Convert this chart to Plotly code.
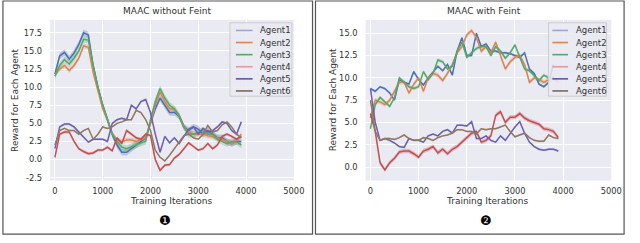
import plotly.graph_objects as go

W, H = 640, 243

agents = ["Agent1", "Agent2", "Agent3", "Agent4", "Agent5", "Agent6"]
colors = ["#4c72b0", "#dd8452", "#55a868", "#c44e52", "#6a5fb0", "#937860"]
legend_colors = ["#9fa6d6", "#dd8452", "#55a868", "#e09a9c", "#5c55aa", "#7d6a55"]

iters = [i * 100 for i in range(40)]

left_titles = "MAAC without Feint"
right_titles = "MAAC with Feint"

# ---- Left panel: MAAC without Feint ----
L_agent1 = [11.8, 14.3, 14.8, 13.9, 14.7, 15.9, 17.5, 17.2, 13.0, 10.0, 7.5, 5.5, 3.5, 2.0, 1.0, 1.0, 1.5, 2.0, 2.5, 3.0,
            5.0, 7.0, 8.5, 7.5, 6.5, 6.5, 6.0, 4.5, 4.0, 4.5, 4.2, 3.5, 4.0, 3.5, 3.0, 3.0, 2.5, 2.2, 2.5, 2.5]
L_agent2 = [11.8, 12.5, 13.0, 12.3, 13.0, 14.0, 15.7, 15.5, 12.0, 9.5, 7.0, 5.5, 3.5, 2.7, 2.5, 2.7, 2.7, 2.5, 2.8, 3.0,
            5.0, 7.5, 9.3, 8.0, 7.0, 7.0, 6.0, 4.5, 3.8, 3.5, 3.5, 3.5, 3.3, 3.2, 3.0, 2.8, 2.5, 2.2, 2.5, 3.5]
L_agent3 = [11.5, 13.0, 13.8, 13.2, 14.0, 15.0, 16.6, 16.5, 13.0, 10.0, 7.5, 5.5, 3.5, 2.5, 1.7, 1.5, 1.8, 2.0, 2.3, 2.5,
            5.5, 8.0, 9.8, 8.5, 7.5, 7.0, 6.0, 4.5, 3.5, 3.5, 3.8, 4.0, 3.5, 3.5, 2.8, 2.5, 2.2, 2.5, 2.5, 2.0]
L_agent4 = [0.3, 3.5, 3.8, 3.8, 2.5, 1.5, 1.1, 0.8, 0.9, 1.3, 1.3, 1.7, 1.2, 3.0, 2.2, 4.0, 3.5, 3.0, 2.8, 3.5,
            3.3, 0.0, -1.5, -0.8, -0.7, 0.2, 0.7, 1.5, 2.3, 1.8, 1.3, 1.5, 2.2, 1.5, 2.0, 3.2, 3.5, 3.2, 2.8, 3.2]
L_agent5 = [1.5, 4.5, 4.9, 4.9, 4.5, 3.8, 3.0, 2.4, 2.8, 2.8, 2.8, 2.5, 5.0, 5.5, 5.7, 5.5, 7.5, 7.0, 8.0, 8.3,
            6.5, 3.5, 1.0, 3.2, 2.3, 3.0, 2.2, 3.2, 4.2, 4.5, 3.5, 4.3, 3.8, 4.0, 4.5, 5.2, 5.0, 4.0, 3.5, 5.2]
L_agent6 = [2.0, 4.0, 4.3, 4.0, 4.0, 3.5, 4.0, 4.3, 2.8, 3.5, 4.5, 4.3, 4.5, 5.0, 5.2, 5.5, 5.5, 6.8, 6.5, 5.5,
            4.0, 1.3, 0.3, -0.2, 0.6, 1.5, 2.5, 3.3, 3.5, 3.0, 2.8, 3.5, 4.7, 3.8, 4.0, 4.8, 5.2, 4.5, 3.5, 3.0]
L_spread = [0.45, 0.35, 0.45, 0.2, 0.15, 0.1]

# ---- Right panel: MAAC with Feint ----
R_agent1 = [8.8, 8.5, 9.0, 8.8, 8.3, 7.5, 9.8, 9.5, 9.3, 10.7, 9.8, 9.2, 10.0, 10.7, 11.3, 10.8, 11.5, 10.3, 13.0, 14.5,
            12.5, 12.5, 15.0, 13.5, 13.8, 13.0, 13.0, 12.8, 12.8, 12.7, 12.5, 12.3, 12.8, 11.0, 10.5, 9.3, 9.0, 9.5, 11.5]
R_agent2 = [5.5, 7.5, 7.3, 7.0, 7.5, 8.5, 9.5, 9.5, 8.3, 9.3, 10.0, 8.5, 10.0, 10.5, 10.3, 9.7, 10.5, 11.5, 12.8, 13.5,
            14.8, 15.3, 14.5, 13.0, 13.5, 12.8, 14.0, 12.5, 11.0, 11.8, 12.3, 12.5, 11.5, 9.5, 10.0, 9.8, 9.5, 9.8, 10.0, 9.5]
R_agent3 = [4.3, 7.0, 7.8, 7.3, 6.8, 7.8, 10.0, 9.5, 9.0, 8.8, 9.0, 10.7, 9.8, 10.5, 12.0, 11.8, 11.0, 11.3, 13.0, 14.0,
            12.3, 12.8, 13.3, 13.5, 13.5, 12.5, 13.5, 13.0, 12.2, 12.8, 13.7, 12.3, 11.0, 10.8, 10.2, 9.7, 10.3, 10.0, 10.0]
R_agent4 = [6.0, 4.0, 0.5, -0.3, 0.5, 1.0, 1.7, 1.8, 1.8, 1.5, 1.1, 1.8, 2.0, 2.3, 1.6, 2.0, 1.5, 2.0, 2.3, 2.8,
            3.3, 3.8, 4.0, 2.8, 3.0, 3.5, 5.8, 6.2, 5.0, 5.6, 5.6, 6.0, 5.5, 5.2, 5.0, 4.8, 4.3, 4.2, 4.0, 3.3]
R_agent5 = [8.8, 5.0, 3.0, 3.2, 3.0, 2.7, 2.3, 2.2, 3.2, 3.0, 3.0, 2.8, 3.5, 3.7, 3.5, 4.0, 4.2, 3.8, 4.7, 4.7,
            4.6, 5.1, 3.2, 3.2, 3.5, 3.0, 2.8, 3.5, 3.0, 3.8, 4.5, 5.1, 3.8, 2.8, 2.3, 2.0, 1.9, 2.0, 2.0, 1.8]
R_agent6 = [7.5, 4.0, 3.0, 3.2, 3.2, 3.1, 3.3, 3.6, 3.2, 3.0, 3.0, 3.3, 3.2, 3.0, 3.3, 3.5, 3.6, 3.8, 4.2, 4.2,
            4.0, 4.0, 3.7, 4.3, 4.2, 4.3, 4.3, 4.5, 4.7, 4.0, 3.4, 3.6, 3.8, 3.3, 3.0, 2.9, 2.9, 3.6, 3.3, 3.2]
R_spread = [0.15, 0.25, 0.2, 0.25, 0.1, 0.1]

x_ticks = [0, 1000, 2000, 3000, 4000, 5000]
L_y_ticks = [-2.5, 0.0, 2.5, 5.0, 7.5, 10.0, 12.5, 15.0, 17.5]
R_y_ticks = [0.0, 2.5, 5.0, 7.5, 10.0, 12.5, 15.0]


def px(x):
    return x / W


def py(y):
    return 1 - y / H


def hex_rgba(h, a):
    h = h.lstrip("#")
    return f"rgba({int(h[0:2],16)},{int(h[2:4],16)},{int(h[4:6],16)},{a})"


fig = go.Figure()

panels = [
    ("x", "y", [L_agent1, L_agent2, L_agent3, L_agent4, L_agent5, L_agent6], L_spread),
    ("x2", "y2", [R_agent1, R_agent2, R_agent3, R_agent4, R_agent5, R_agent6], R_spread),
]

for xa, ya, series, spread in panels:
    for k, vals in enumerate(series):
        xs = iters[:len(vals)]
        up = [v + spread[k] for v in vals]
        lo = [v - spread[k] for v in vals]
        fig.add_trace(go.Scatter(x=xs, y=up, xaxis=xa, yaxis=ya, mode="lines",
                                 line=dict(width=0, color=colors[k]), showlegend=False, hoverinfo="skip"))
        fig.add_trace(go.Scatter(x=xs, y=lo, xaxis=xa, yaxis=ya, mode="lines", fill="tonexty",
                                 fillcolor=hex_rgba(colors[k], 0.3),
                                 line=dict(width=0, color=colors[k]), showlegend=False, hoverinfo="skip"))
    for k, vals in enumerate(series):
        xs = iters[:len(vals)]
        fig.add_trace(go.Scatter(x=xs, y=vals, xaxis=xa, yaxis=ya, mode="lines", name=agents[k],
                                 line=dict(width=1.5, color=colors[k]), showlegend=False))

FONT = "DejaVu Sans"
TXT = "#333333"
tickfont = dict(family=FONT, size=8.3, color=TXT)

common_x = dict(range=[-100, 5000], tickvals=x_ticks, ticktext=[str(t) for t in x_ticks],
                showgrid=True, gridcolor="white", gridwidth=1, zeroline=False, showline=False,
                ticks="", tickfont=tickfont, ticklabelstandoff=4)
common_y = dict(showgrid=True, gridcolor="white", gridwidth=1, zeroline=False, showline=False,
                ticks="", tickfont=tickfont, ticklabelstandoff=7)

fig.update_layout(
    width=W, height=H,
    margin=dict(l=0, r=0, t=0, b=0),
    paper_bgcolor="white",
    plot_bgcolor="#eaeaf2",
    showlegend=False,
    xaxis=dict(domain=[px(51), px(299)], anchor="y", **common_x),
    yaxis=dict(domain=[py(182), py(20)], anchor="x", range=[-2.9, 19.3], tickvals=L_y_ticks,
               ticktext=[f"{v:.1f}" for v in L_y_ticks], **common_y),
    xaxis2=dict(domain=[px(372), px(622)], anchor="y2", **common_x),
    yaxis2=dict(domain=[py(182), py(20)], anchor="x2", range=[-1.5, 16.5], tickvals=R_y_ticks,
                ticktext=[f"{v:.1f}" for v in R_y_ticks], **common_y),
)

shapes = []
annotations = []

# panel frames
for x0, x1 in [(3, 318), (321, 635)]:
    shapes.append(dict(type="rect", xref="paper", yref="paper", x0=px(x0), x1=px(x1), y0=py(236), y1=py(1),
                       line=dict(color="#555555", width=1.2), fillcolor="rgba(0,0,0,0)", layer="below"))

# titles, axis labels, panel markers
texts = [
    (left_titles, 170, 11, 0, 9),
    (right_titles, 492, 11, 0, 9),
    ("Training Iterations", 175, 203, 0, 9),
    ("Training Iterations", 496, 203, 0, 9),
    ("Reward for Each Agent", 15, 101, -90, 9),
    ("Reward for Each Agent", 339, 101, -90, 9),
]
for t, x, y, ang, fs in texts:
    annotations.append(dict(text=t, xref="paper", yref="paper", x=px(x), y=py(y), xanchor="center",
                            yanchor="middle", showarrow=False, textangle=ang,
                            font=dict(family=FONT, size=fs, color=TXT)))
for t, x in [("❶", 168), ("❷", 495)]:
    annotations.append(dict(text=t, xref="paper", yref="paper", x=px(x), y=py(222), xanchor="center",
                            yanchor="middle", showarrow=False, font=dict(family=FONT, size=13, color="black")))

# legends (drawn by hand to match compact matplotlib spacing)
for bx0, bx1, lx0, lx1, tx in [(234, 297, 240, 257, 263), (558, 617, 562, 578, 584)]:
    shapes.append(dict(type="rect", xref="paper", yref="paper", x0=px(bx0), x1=px(bx1), y0=py(97), y1=py(23),
                       line=dict(color="#cccccc", width=1), fillcolor="rgba(234,234,242,0.85)"))
    for k, name in enumerate(agents):
        yy = 30.7 + 12.2 * k
        shapes.append(dict(type="line", xref="paper", yref="paper", x0=px(lx0), x1=px(lx1), y0=py(yy), y1=py(yy),
                           line=dict(color=legend_colors[k], width=1.6)))
        annotations.append(dict(text=name, xref="paper", yref="paper", x=px(tx), y=py(yy), xanchor="left",
                                yanchor="middle", showarrow=False, font=dict(family=FONT, size=8.5, color=TXT)))

fig.update_layout(shapes=shapes, annotations=annotations)
fig.write_html("out.html", config={"displayModeBar": False},
               post_script="document.body.style.margin='0';document.body.style.padding='0';"
                           "document.body.style.overflow='hidden';")
